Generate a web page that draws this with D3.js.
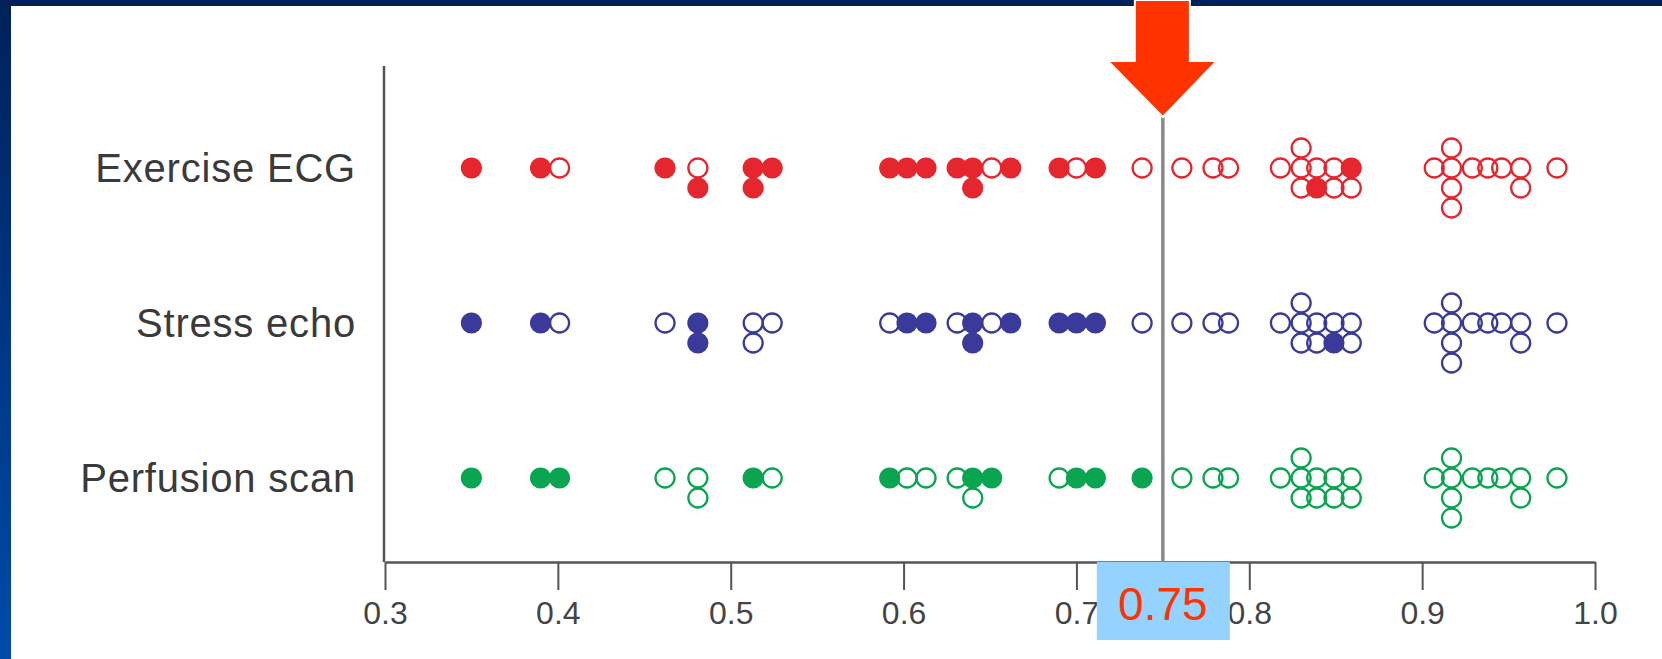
<!DOCTYPE html>
<html>
<head>
<meta charset="utf-8">
<script src="https://cdn.jsdelivr.net/npm/d3@7"></script>
<style>
  html, body { margin: 0; padding: 0; background: #fff; }
  svg { display: block; }
</style>
</head>
<body>
<svg width="1662" height="659"></svg>
<script>
(function(d3) {
    'use strict';

    // test names, one row each
    const tests = ['Exercise ECG', 'Stress echo', 'Perfusion scan'];

    // ROC area per study, same-value studies stacked (middle, below, above, below again)
    const ecgAuc = [0.350, 0.390, 0.401, 0.462, 0.481, 0.481, 0.513, 0.513, 0.524,
        0.592, 0.602, 0.613, 0.631, 0.640, 0.640, 0.651, 0.662, 0.690, 0.700, 0.711,
        0.738, 0.761, 0.779, 0.788, 0.818, 0.830, 0.830, 0.830, 0.839, 0.839,
        0.849, 0.849, 0.859, 0.859, 0.907, 0.917, 0.917, 0.917, 0.917,
        0.929, 0.938, 0.946, 0.957, 0.957, 0.978];
    const ecgFilled = [1, 1, 0, 1, 0, 1, 1, 1, 1,
        1, 1, 1, 1, 1, 1, 0, 1, 1, 0, 1,
        0, 0, 0, 0, 0, 0, 0, 0, 0, 1,
        0, 0, 1, 0, 0, 0, 0, 0, 0,
        0, 0, 0, 0, 0, 0];

    const echoAuc = [0.350, 0.390, 0.401, 0.462, 0.481, 0.481, 0.513, 0.513, 0.524,
        0.592, 0.602, 0.613, 0.631, 0.640, 0.640, 0.651, 0.662, 0.690, 0.700, 0.711,
        0.738, 0.761, 0.779, 0.788, 0.818, 0.830, 0.830, 0.830, 0.839, 0.839,
        0.849, 0.849, 0.859, 0.859, 0.907, 0.917, 0.917, 0.917, 0.917,
        0.929, 0.938, 0.946, 0.957, 0.957, 0.978];
    const echoFilled = [1, 1, 0, 0, 1, 1, 0, 0, 0,
        0, 1, 1, 0, 1, 1, 0, 1, 1, 1, 1,
        0, 0, 0, 0, 0, 0, 0, 0, 0, 0,
        0, 1, 0, 0, 0, 0, 0, 0, 0,
        0, 0, 0, 0, 0, 0];

    const perfAuc = [0.350, 0.390, 0.401, 0.462, 0.481, 0.481, 0.513, 0.524,
        0.592, 0.602, 0.613, 0.631, 0.640, 0.640, 0.651, 0.690, 0.700, 0.711,
        0.738, 0.761, 0.779, 0.788, 0.818, 0.830, 0.830, 0.830, 0.839, 0.839,
        0.849, 0.849, 0.859, 0.859, 0.907, 0.917, 0.917, 0.917, 0.917,
        0.929, 0.938, 0.946, 0.957, 0.957, 0.978];
    const perfFilled = [1, 1, 1, 0, 0, 0, 1, 0,
        1, 0, 0, 0, 1, 0, 1, 0, 1, 1,
        1, 0, 0, 0, 0, 0, 0, 0, 0, 0,
        0, 0, 0, 0, 0, 0, 0, 0, 0,
        0, 0, 0, 0, 0, 0];

    const xTicks = [0.3, 0.4, 0.5, 0.6, 0.7, 0.8, 0.9, 1.0];
    const cutoff = 0.75;

    const rowColors = ['#e5262e', '#3a3a9a', '#0aa550'];
    const rows = [
        { name: tests[0], auc: ecgAuc, filled: ecgFilled },
        { name: tests[1], auc: echoAuc, filled: echoFilled },
        { name: tests[2], auc: perfAuc, filled: perfFilled }
    ];

    const svg = d3.select('svg');
    const W = 1662, H = 659;

    // slide frame
    const defs = svg.append('defs');
    const grad = defs.append('linearGradient')
        .attr('id', 'side').attr('x1', 0).attr('y1', 0).attr('x2', 0).attr('y2', 1);
    grad.append('stop').attr('offset', '0%').attr('stop-color', '#00215a');
    grad.append('stop').attr('offset', '100%').attr('stop-color', '#004bab');
    svg.append('rect').attr('width', W).attr('height', H).attr('fill', '#fff');
    svg.append('rect').attr('x', 0).attr('y', 0).attr('width', 11).attr('height', H)
        .attr('fill', 'url(#side)');
    svg.append('rect').attr('x', 0).attr('y', 0).attr('width', W).attr('height', 6)
        .attr('fill', '#00215a');

    const x = d3.scaleLinear().domain([0.3, 1.0]).range([385, 1595]);
    const y = d3.scalePoint().domain(tests).range([168, 478]);
    const axisY = 562;
    const stackStep = 20;
    const stackOrder = [0, 1, -1, 2, -2];

    // x axis
    const xAxis = svg.append('g')
        .attr('transform', `translate(0,${axisY})`)
        .call(d3.axisBottom(x)
            .tickValues(xTicks)
            .tickFormat(d3.format('.1f'))
            .tickSize(28)
            .tickSizeOuter(0)
            .tickPadding(11));
    xAxis.select('.domain').attr('stroke', '#555').attr('stroke-width', 2.5);
    xAxis.selectAll('.tick line').attr('stroke', '#555').attr('stroke-width', 2);
    xAxis.selectAll('.tick text')
        .attr('fill', '#444')
        .attr('font-family', '"Liberation Sans", Arial, sans-serif')
        .attr('font-size', 32);

    // y axis line
    svg.append('line')
        .attr('x1', x(0.3) - 1).attr('x2', x(0.3) - 1)
        .attr('y1', 66).attr('y2', axisY)
        .attr('stroke', '#555').attr('stroke-width', 2.5);

    // row labels
    svg.append('g').selectAll('text')
        .data(tests)
        .enter().append('text')
        .attr('x', 356)
        .attr('y', d => y(d))
        .attr('dy', '0.36em')
        .attr('text-anchor', 'end')
        .attr('fill', '#3a3a3a')
        .attr('font-family', '"Liberation Sans", Arial, sans-serif')
        .attr('font-size', 40)
        .attr('letter-spacing', 0.8)
        .text(d => d);

    // cut-off line
    svg.append('line')
        .attr('x1', x(cutoff)).attr('x2', x(cutoff))
        .attr('y1', 112).attr('y2', axisY)
        .attr('stroke', '#8a8a8a').attr('stroke-width', 3.5);

    // dots
    rows.forEach((row, ri) => {
        const seen = {};
        const pts = row.auc.map((v, i) => {
            const k = v.toFixed(3);
            const n = seen[k] || 0;
            seen[k] = n + 1;
            return { v, filled: row.filled[i] === 1, off: stackOrder[n] };
        });
        const col = rowColors[ri];
        svg.append('g').selectAll('circle')
            .data(pts)
            .enter().append('circle')
            .attr('cx', d => x(d.v))
            .attr('cy', d => y(row.name) + d.off * stackStep)
            .attr('r', d => d.filled ? 10.6 : 9.5)
            .attr('fill', d => d.filled ? col : 'none')
            .attr('stroke', d => d.filled ? 'none' : col)
            .attr('stroke-width', 2.3);
    });

    // red arrow pointing at the cut-off
    const ax = x(cutoff);
    svg.append('path')
        .attr('d', `M${ax - 28},0 L${ax + 27},0 L${ax + 27},61 L${ax + 54},61 ` +
            `L${ax},117 L${ax - 55},61 L${ax - 28},61 Z`)
        .attr('fill', '#ff3300')
        .attr('stroke', '#fff')
        .attr('stroke-width', 2);

    // highlighted label
    const box = svg.append('g').attr('transform', `translate(${ax},${axisY})`);
    box.append('rect')
        .attr('x', -66).attr('y', 0)
        .attr('width', 133).attr('height', 78)
        .attr('fill', '#94d3ff');
    box.append('text')
        .attr('x', 0).attr('y', 58)
        .attr('text-anchor', 'middle')
        .attr('fill', '#ff3300')
        .attr('font-family', '"Liberation Sans", Arial, sans-serif')
        .attr('font-size', 46)
        .text(cutoff);
}(d3));
</script>
</body>
</html>
